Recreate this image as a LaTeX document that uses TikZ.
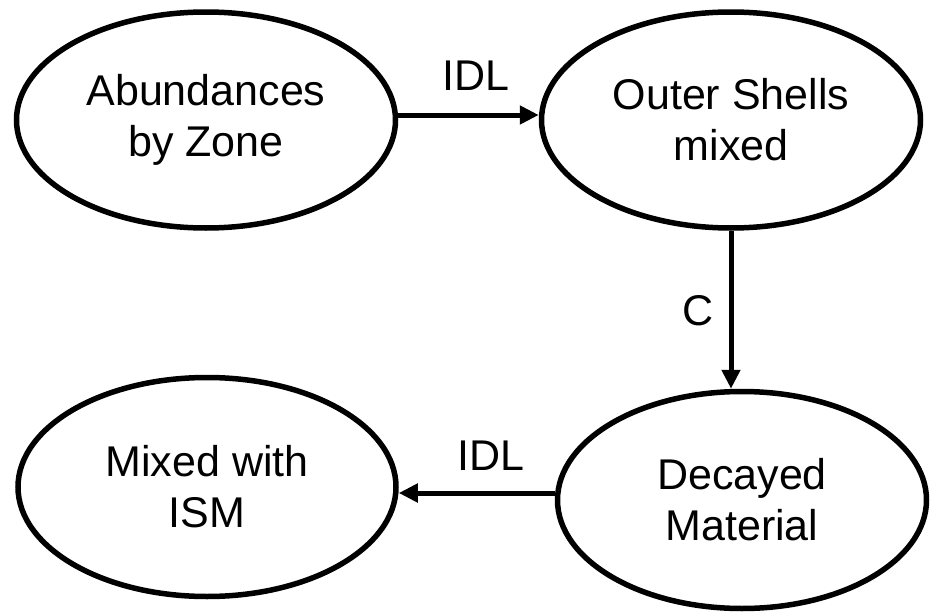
\documentclass[tikz,border=0pt]{standalone}
\usepackage{fontspec}
\setmainfont{Liberation Sans}
\usetikzlibrary{shapes.geometric,arrows.meta}
\begin{document}
\begin{tikzpicture}[x=1pt,y=-1pt,
  oval/.style={ellipse,draw,line width=5.5pt,inner sep=0pt,align=center,
    font=\fontsize{43}{51}\selectfont},
  lbl/.style={inner sep=0pt,font=\fontsize{43}{51}\selectfont},
  arr/.style={line width=5pt,-{Triangle[length=19pt,width=18pt]}}]
\useasboundingbox (0,0) rectangle (930,613);
\node[oval,minimum width=379pt,minimum height=216pt] (A) at (206,120) {Abundances\\by Zone};
\node[oval,minimum width=379pt,minimum height=216pt] (B) at (731,120) {Outer Shells\\mixed};
\node[oval,minimum width=369pt,minimum height=217pt] (D) at (742,500) {Decayed\\Material};
\node[oval,minimum width=378pt,minimum height=219pt] (M) at (207,487) {Mixed with\\ISM};
\draw[arr] ([yshift=5pt]A.east) -- ([yshift=5pt]B.west);
\draw[arr] (B.south) -- (B.south |- D.north);
\draw[arr] ([yshift=7pt]D.west) -- ([yshift=-6pt]M.east);
\node[lbl] (l1) at (476,76) {IDL};
\node[lbl] (l2) at (698,311) {C};
\node[lbl] (l3) at (491,456) {IDL};
\end{tikzpicture}
\end{document}
